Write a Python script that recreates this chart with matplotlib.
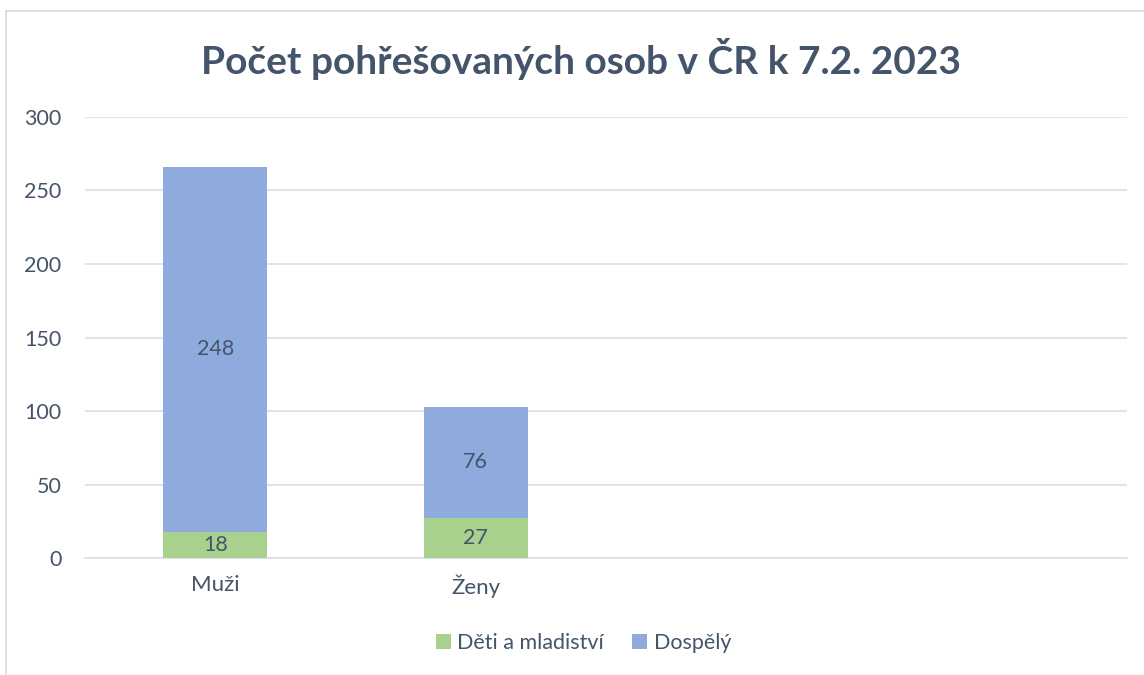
import numpy as np
import matplotlib.pyplot as plt
from matplotlib.lines import Line2D

categories = ["Muži", "Ženy", "", ""]
children = [18, 27, 0, 0]
adults = [248, 76, 0, 0]
series_names = ["Děti a mladiství", "Dospělý"]

text_color = "#44546A"
green = "#A9D18E"
blue = "#8FAADC"
grid_color = "#DDE1E8"

plt.rcParams["font.family"] = ["Lato", "DejaVu Sans"]

fig = plt.figure(figsize=(11.44, 6.75), dpi=100)
ax = fig.add_axes([0.0743, 0.1733, 0.9107, 0.6534])

x = np.arange(len(categories))
width = 0.40
b1 = ax.bar(x, children, width, color=green, label=series_names[0], zorder=3)
b2 = ax.bar(x, adults, width, bottom=children, color=blue, label=series_names[1], zorder=3)

for bars, vals in [(b1, children), (b2, adults)]:
    for rect, v in zip(bars, vals):
        if v:
            ax.text(rect.get_x() + rect.get_width() / 2, rect.get_y() + rect.get_height() / 2,
                    f"{v}", ha="center", va="center", fontsize=15.5, color=text_color, zorder=4)

ax.set_xlim(-0.5, len(categories) - 0.5)
ax.set_ylim(0, 300)
ax.set_yticks(range(0, 301, 50))
ax.set_xticks(x)
ax.set_xticklabels(categories)
ax.yaxis.grid(True, color=grid_color, linewidth=1.3, zorder=0)
ax.tick_params(axis="y", length=0, labelsize=15.5, colors=text_color, pad=17)
ax.tick_params(axis="x", length=0, labelsize=16, colors=text_color, pad=12)
for side in ["left", "right", "top"]:
    ax.spines[side].set_visible(False)
ax.spines["bottom"].set_color(grid_color)
ax.spines["bottom"].set_linewidth(1.3)

fig.suptitle("Počet pohřešovaných osob v ČR k 7.2. 2023", x=0.508, y=0.943,
             fontsize=28, fontweight="bold", color=text_color)

fig.legend(loc="center", bbox_to_anchor=(0.51, 0.047), ncol=2, frameon=False,
           fontsize=15.5, handlelength=0.7, handleheight=0.7, handletextpad=0.3,
           columnspacing=1.3, labelcolor=text_color)

# chart-area border (left and top edges visible)
fig.add_artist(Line2D([0.0052, 0.0052], [0, 0.984], color="#D9D9D9", linewidth=1.2))
fig.add_artist(Line2D([0.0052, 1.0], [0.984, 0.984], color="#D9D9D9", linewidth=1.2))

fig.savefig("out.png", dpi=100, facecolor="white")
